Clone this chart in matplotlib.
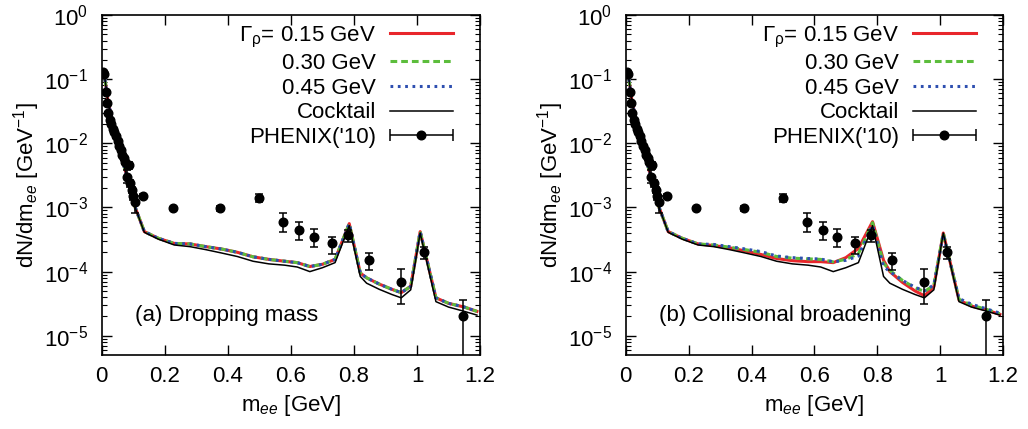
import numpy as np
import matplotlib
matplotlib.use("Agg")
import matplotlib.pyplot as plt
from matplotlib.ticker import LogLocator, NullFormatter
from matplotlib.lines import Line2D
from matplotlib.collections import LineCollection
from matplotlib.container import ErrorbarContainer
from matplotlib.legend_handler import HandlerErrorbar

plt.rcParams['font.family'] = ['Liberation Sans', 'DejaVu Sans']
plt.rcParams['mathtext.fontset'] = 'custom'
plt.rcParams['mathtext.rm'] = 'Liberation Sans'
plt.rcParams['mathtext.it'] = 'Liberation Sans:italic'
plt.rcParams['mathtext.bf'] = 'Liberation Sans:bold'

# PHENIX('10) data points
m_data = [0.003, 0.008, 0.013, 0.017, 0.021, 0.025, 0.030, 0.035, 0.040, 0.045,
          0.050, 0.055, 0.060, 0.065, 0.070, 0.075, 0.085, 0.080, 0.090, 0.095,
          0.100, 0.105, 0.130, 0.225, 0.375, 0.500, 0.576, 0.626, 0.673, 0.730,
          0.780, 0.847, 0.950, 1.022, 1.147]
y_data = [0.13, 0.12, 0.062, 0.042, 0.030, 0.023, 0.020, 0.017, 0.0150, 0.0128,
          0.0110, 0.0092, 0.0078, 0.0066, 0.0058, 0.0051, 0.0046, 0.0030, 0.0024, 0.0019,
          0.0015, 0.0012, 0.0015, 0.00097, 0.00097, 0.0014, 0.00060, 0.00045, 0.00035, 0.00028,
          0.00037, 0.00015, 0.000070, 0.00020, 0.000020]
err_lo = [0.004, 0.004, 0.002, 0.0015, 0.001, 0.0008, 0.0007, 0.0006, 0.0005, 0.0005,
          0.0004, 0.0004, 0.0003, 0.0003, 0.0003, 0.0003, 0.0006, 0.0006, 0.0003, 0.0002,
          0.0002, 0.00039, 0.0001, 0.00004, 0.0001, 0.00017, 0.00018, 0.00014, 0.000105, 0.00009,
          0.00008, 0.000045, 0.000039, 0.00004, 0.0000199]
err_hi = [0.004, 0.004, 0.002, 0.0015, 0.001, 0.0008, 0.0007, 0.0006, 0.0005, 0.0005,
          0.0004, 0.0004, 0.0003, 0.0003, 0.0003, 0.0003, 0.0006, 0.0008, 0.0003, 0.0002,
          0.0002, 0.0003, 0.0001, 0.00004, 0.0001, 0.00022, 0.00021, 0.00014, 0.00011, 0.00007,
          0.00008, 0.000046, 0.000038, 0.00004, 0.000016]

# model curves
m_curve = [0.01, 0.02, 0.04, 0.06, 0.08, 0.10, 0.135, 0.18, 0.23, 0.28, 0.33, 0.38,
           0.43, 0.48, 0.53, 0.58, 0.62, 0.66, 0.70, 0.74, 0.785, 0.82, 0.84, 0.88,
           0.92, 0.95, 0.98, 1.01, 1.06, 1.10, 1.15, 1.19]
cocktail = [0.10, 0.045, 0.016, 0.0068, 0.0030, 0.0012, 4.1e-4, 3.2e-4, 2.6e-4, 2.45e-4, 2.2e-4, 1.95e-4,
            1.72e-4, 1.45e-4, 1.32e-4, 1.26e-4, 1.18e-4, 1.0e-4, 1.15e-4, 1.38e-4, 5.2e-4, 8.4e-5, 6.6e-5, 5.3e-5,
            4.4e-5, 3.9e-5, 5.2e-5, 4.0e-4, 3.4e-5, 2.8e-5, 2.4e-5, 2.1e-5]
# (a) dropping mass
drop_015 = [0.10, 0.045, 0.016, 0.0068, 0.0030, 0.0012, 4.2e-4, 3.3e-4, 2.75e-4, 2.7e-4, 2.45e-4, 2.25e-4,
            2.0e-4, 1.7e-4, 1.55e-4, 1.45e-4, 1.38e-4, 1.2e-4, 1.3e-4, 1.55e-4, 5.6e-4, 9.5e-5, 8.0e-5, 6.4e-5,
            5.3e-5, 4.7e-5, 5.9e-5, 4.2e-4, 3.9e-5, 3.2e-5, 2.8e-5, 2.4e-5]
drop_030 = [0.10, 0.045, 0.016, 0.0068, 0.0030, 0.0012, 4.2e-4, 3.3e-4, 2.75e-4, 2.7e-4, 2.45e-4, 2.25e-4,
            2.0e-4, 1.7e-4, 1.55e-4, 1.45e-4, 1.38e-4, 1.2e-4, 1.3e-4, 1.55e-4, 5.6e-4, 9.5e-5, 8.0e-5, 6.4e-5,
            5.3e-5, 4.7e-5, 5.9e-5, 4.2e-4, 3.9e-5, 3.2e-5, 2.8e-5, 2.4e-5]
drop_045 = [0.10, 0.045, 0.016, 0.0068, 0.0030, 0.0012, 4.2e-4, 3.3e-4, 2.75e-4, 2.7e-4, 2.45e-4, 2.25e-4,
            2.0e-4, 1.7e-4, 1.55e-4, 1.45e-4, 1.38e-4, 1.2e-4, 1.3e-4, 1.55e-4, 5.6e-4, 9.5e-5, 8.0e-5, 6.4e-5,
            5.3e-5, 4.7e-5, 5.9e-5, 4.2e-4, 3.9e-5, 3.2e-5, 2.8e-5, 2.4e-5]
# (b) collisional broadening
coll_015 = [0.10, 0.045, 0.016, 0.0068, 0.0030, 0.0012, 4.2e-4, 3.3e-4, 2.7e-4, 2.55e-4, 2.35e-4, 2.1e-4,
            1.85e-4, 1.6e-4, 1.48e-4, 1.43e-4, 1.43e-4, 1.38e-4, 1.65e-4, 2.3e-4, 6.0e-4, 1.5e-4, 1.0e-4, 6.8e-5,
            5.0e-5, 4.2e-5, 5.8e-5, 4.0e-4, 3.6e-5, 2.9e-5, 2.5e-5, 2.15e-5]
coll_030 = [0.10, 0.045, 0.016, 0.0068, 0.0030, 0.0012, 4.2e-4, 3.3e-4, 2.7e-4, 2.6e-4, 2.4e-4, 2.2e-4,
            2.0e-4, 1.72e-4, 1.62e-4, 1.58e-4, 1.55e-4, 1.42e-4, 1.55e-4, 1.9e-4, 5.8e-4, 1.35e-4, 1.05e-4, 7.3e-5,
            5.6e-5, 4.9e-5, 6.1e-5, 4.0e-4, 3.7e-5, 3.0e-5, 2.55e-5, 2.2e-5]
coll_045 = [0.10, 0.045, 0.016, 0.0068, 0.0030, 0.0012, 4.2e-4, 3.3e-4, 2.7e-4, 2.65e-4, 2.45e-4, 2.25e-4,
            2.05e-4, 1.75e-4, 1.65e-4, 1.6e-4, 1.57e-4, 1.42e-4, 1.5e-4, 1.75e-4, 5.3e-4, 1.2e-4, 1.0e-4, 7.3e-5,
            5.7e-5, 5.0e-5, 6.2e-5, 3.8e-4, 3.8e-5, 3.1e-5, 2.6e-5, 2.25e-5]

labels = [r'$\Gamma_{\mathrm{\rho}}$= 0.15 GeV', '0.30 GeV', '0.45 GeV', 'Cocktail', "PHENIX('10)"]
panel_text = ['(a) Dropping mass', '(b) Collisional broadening']
xtick_vals = [0, 0.2, 0.4, 0.6, 0.8, 1.0, 1.2]
xtick_text = ['0', '0.2', '0.4', '0.6', '0.8', '1', '1.2']

red = '#e8262b'
green = '#5cbd3c'
blue = '#2e4fb0'
fs = 16


def drawPanel(ax, c015, c030, c045, text):
    l1, = ax.plot(m_curve, c015, color=red, lw=2.2, zorder=2)
    l2, = ax.plot(m_curve, c030, color=green, lw=2.2, dashes=(2.2, 1.3), zorder=3)
    l3, = ax.plot(m_curve, c045, color=blue, lw=2.2, dashes=(0.9, 1.5), dash_capstyle='butt', zorder=4)
    l4, = ax.plot(m_curve, cocktail, color='black', lw=1.1, zorder=5)
    ax.errorbar(m_data, y_data, yerr=[err_lo, err_hi], fmt='o', color='black', ms=6.2,
                elinewidth=1.1, capsize=3, capthick=1.1, zorder=6)

    # legend handle like gnuplot: horizontal bar with caps and a dot
    pt = Line2D([], [], marker='o', ms=6.2, color='black', ls='none')
    cap = Line2D([], [], marker='|', ms=8, mew=1.1, color='black', ls='none')
    bar = LineCollection([], colors='black', linewidths=1.1)
    phenix = ErrorbarContainer((pt, (cap,), (bar,)), has_xerr=True, has_yerr=False)

    ax.legend([l1, l2, l3, l4, phenix], labels, loc='upper right', bbox_to_anchor=(0.928, 0.972),
              frameon=False, markerfirst=False, fontsize=fs, handlelength=2.84, handletextpad=0.62,
              labelspacing=0.16, borderpad=0, borderaxespad=0, numpoints=1,
              handler_map={ErrorbarContainer: HandlerErrorbar(xerr_size=1.42)})

    ax.text(0.088, 0.115, text, transform=ax.transAxes, fontsize=fs, va='center', ha='left')

    ax.set_yscale('log')
    ax.set_xlim(0, 1.2)
    ax.set_ylim(10 ** -5.3, 1)
    ax.set_xticks(xtick_vals)
    ax.set_xticklabels(xtick_text)
    ax.yaxis.set_major_locator(LogLocator(base=10, numticks=10))
    ax.yaxis.set_minor_locator(LogLocator(base=10, subs=np.arange(2, 10), numticks=20))
    ax.yaxis.set_minor_formatter(NullFormatter())
    ax.tick_params(which='both', direction='in', top=True, right=True, labelsize=fs)
    ax.tick_params(which='major', length=7, width=1)
    ax.tick_params(which='minor', length=3.5, width=0.8)
    ax.tick_params(axis='x', pad=8)
    ax.tick_params(axis='y', pad=10)
    for s in ax.spines.values():
        s.set_linewidth(1.2)
    ax.set_xlabel(r'm$_{ee}$ [GeV]', fontsize=fs, labelpad=4)
    ax.set_ylabel(r'dN/dm$_{ee}$ [GeV$^{-1}$]', fontsize=fs, labelpad=1)


fig = plt.figure(figsize=(10.28, 4.29), dpi=100)
axL = fig.add_axes([0.099, 0.1725, 0.368, 0.7925])
axR = fig.add_axes([0.6087, 0.1725, 0.367, 0.7925])

drawPanel(axL, drop_015, drop_030, drop_045, panel_text[0])
drawPanel(axR, coll_015, coll_030, coll_045, panel_text[1])

fig.savefig('out.png', dpi=100)
